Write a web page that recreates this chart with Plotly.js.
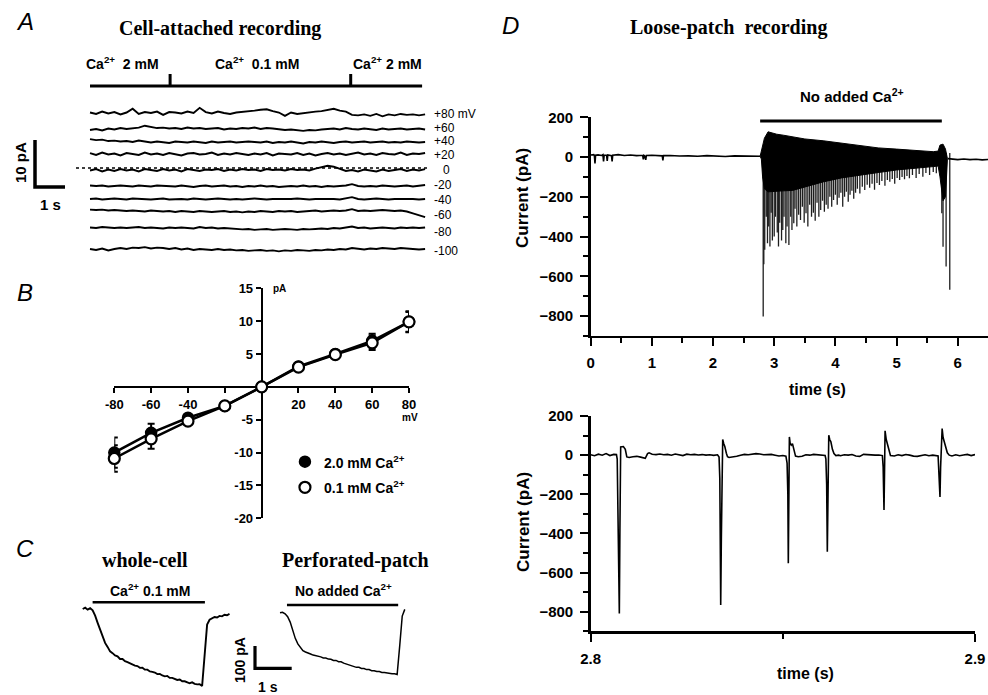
<!DOCTYPE html>
<html><head><meta charset="utf-8">
<script src="https://cdn.plot.ly/plotly-3.0.1.min.js"></script>
<style>html,body{margin:0;padding:0;background:#fff;}#chart{width:988px;height:695px;}</style>
</head><body><div id="chart"></div>
<script>
// ================= DATA =================
// ---- Panel A: cell-attached recording (pA deviations, evenly sampled over the record) ----
const voltageLabels = ['+80 mV','+60','+40','+20','0','-20','-40','-60','-80','-100'];
const recordA_s = 11.17;
const solutionChangeA = [2.67, 8.69];
const solutionEndA = 11.07;
const solutionLabelsA = ['Ca<sup>2+</sup>  2 mM','Ca<sup>2+</sup>  0.1 mM','Ca<sup>2+</sup> 2 mM'];
const traceA_p80 = [0.1,-0.2,0.3,-0.1,0.2,-0.3,0.1,0.9,-0.2,0.2,0,0.3,-0.4,0.2,0.1,-0.1,0.3,0,1.1,0.2,-0.1,0.3,0,-0.2,0.1,0.2,0.3,0.5,0.7,0.8,0.4,0.1,-0.6,0.1,-0.2,0,0.2,0.3,0.4,0.6,0.9,0.5,0.3,-0.4,-0.5,-0.3,-0.6,-0.2,-0.7,-0.3,-0.5,-0.2,-0.4,-0.3,-0.5,-0.3];
const traceA_p60 = [-0.2,0,-0.3,0.1,-0.1,0.2,0,0.1,0.3,0.7,0.4,0.2,0.3,0.1,0.2,0,0.3,0.1,0.2,0,0.1,0.2,-0.1,0.1,0,0.2,0.1,0.3,0,0.2,0.1,0,-0.2,-0.1,-0.3,-0.4,-0.2,-0.3,-0.1,0,0.1,-0.1,0.2,0,-0.1,0.1,0,-0.2,0.1,-0.1,0,0.1,-0.1,0,0.1,-0.1];
const traceA_p40 = [0.6,0.4,0.5,0.2,0.3,0.1,0.2,0,0.3,0.1,-0.1,0.1,0,-0.2,0.1,0,-0.1,0.1,0,-0.2,0.1,-0.1,0,0.1,-0.1,0,0.1,0,-0.1,0.1,-0.2,0,-0.1,0.1,-0.1,-0.3,0,-0.1,0.1,0,-0.2,0,0.1,-0.1,0,0.1,-0.1,0,0.1,-0.1,0,-0.1,0.1,0,-0.1,0];
const traceA_p20 = [0.2,-0.2,0.3,-0.1,0.1,-0.3,0.2,0,-0.2,0.3,-0.1,0.1,-0.2,0.2,0,-0.3,0.1,0.2,-0.1,0,0.3,-0.2,0.1,-0.1,0.2,0,-0.2,0.1,-0.1,0.2,-0.3,0.1,0,-0.1,0.2,-0.2,0.1,-0.3,0,0.2,-0.1,0.1,-0.2,0,0.3,-0.1,0.1,-0.2,0.2,0,-0.1,0.3,-0.2,0.1,0,0.2];
const traceA_0 = [-0.1,0.2,-0.3,0.1,-0.2,0.2,-0.1,0.1,-0.3,0.2,0,-0.2,0.2,-0.1,0.1,-0.3,0.2,0,-0.2,0.1,0,0.2,-0.2,0.1,-0.1,0.2,0,0.1,-0.2,0.2,0,0.1,-0.1,0.2,0,0.1,-0.1,0.3,0.6,0.9,0.7,0.2,-0.2,0,-0.3,0.1,-0.1,-0.3,0.1,-0.2,0,0.2,-0.2,0.1,-0.1,0.2];
const traceA_m20 = [0.1,0,0.1,-0.1,0,0.1,0,-0.1,0.1,0,-0.1,0.1,0,0,-0.1,0.1,0,-0.2,0,0.1,-0.1,0,0.1,-0.1,0,-0.2,0,-0.1,0.1,-0.1,0,-0.2,-0.1,0,-0.1,0.1,-0.1,0,-0.2,0,-0.1,0,0.1,0.4,0,-0.1,0,-0.1,0.1,0,-0.1,0,0.1,-0.1,0,0.2];
const traceA_m40 = [0,0.1,-0.1,0,0.1,0,-0.1,0.1,0,0,-0.1,0,0.1,-0.1,0,0,-0.1,0.1,0,-0.1,0,0.1,0,-0.1,0,-0.1,0,0.1,0,-0.1,0,0,-0.1,0,0.1,0,-0.1,0,0,0.1,0,-0.1,0.1,0.4,0,-0.1,0,0.1,0,-0.1,0,0,0.1,0,-0.1,0];
const traceA_m60 = [0.3,0.2,0.3,0.1,0.2,0.1,0,0.1,0,-0.1,0.1,0,-0.1,0,-0.2,0,-0.1,-0.2,0,-0.1,-0.2,-0.1,0,-0.2,-0.1,-0.3,-0.1,-0.2,0,-0.1,-0.2,0,-0.1,0,-0.2,-0.1,0,0.1,-0.1,0,0.1,0,0.1,0.4,0,0.1,0,0.1,0.2,0.1,0,0.1,-0.1,-0.5,-0.9,-1.3];
const traceA_m80 = [0.1,0,0.2,0.1,0,0.1,0,0.1,0.2,0,0.1,0,-0.1,0.1,0,0.1,0,-0.1,0.2,0,0.1,-0.1,0,-0.1,-0.2,-0.3,-0.2,-0.4,-0.3,-0.2,-0.4,-0.3,-0.2,-0.3,-0.4,-0.2,-0.3,-0.2,-0.1,-0.2,0,-0.1,0.1,0.3,0,0.1,-0.1,0,0.1,0,-0.1,0.1,0,0.1,0,0.1];
const traceA_m100 = [0,-0.2,0.1,-0.3,0,0.2,0,0.3,0.2,0.4,0.1,0.3,0.2,0,0.2,-0.1,0.1,-0.2,0,-0.1,-0.2,0,-0.2,-0.1,-0.3,-0.2,-0.4,-0.3,-0.2,-0.4,-0.3,-0.5,-0.3,-0.4,-0.2,-0.3,-0.4,-0.2,-0.3,-0.1,-0.2,0,-0.1,0.2,0,-0.1,0.1,0,0.2,0.1,0,0.2,0.1,0,-0.1,0];
const scaleA = {pA: 10, s: 1};

// ---- Panel B: I-V relation ----
const ivVoltage = [-80,-60,-40,-20,0,20,40,60,80];
const iv2Ca     = [-10.0,-7.0,-4.7,-2.9,0,3.1,5.0,7.0,9.9];
const iv2CaErr  = [2.3,1.4,0.5,0.3,0,0.6,0.4,1.1,1.5];
const iv01Ca    = [-10.9,-7.9,-5.2,-2.9,0,3.0,4.9,6.7,9.9];
const iv01CaErr = [2.0,1.5,0.5,0.3,0,0.4,0.4,1.1,1.6];
const ivXTicks = [-80,-60,-40,-20,0,20,40,60,80];
const ivXTickText = ['-80','-60','-40','','','20','40','60','80'];
const ivYTicks = [-20,-15,-10,-5,0,5,10,15];
const ivYTickText = ['-20','-15','-10','-5','','5','10','15'];
const ivLegend = ['2.0 mM Ca<sup>2+</sup>','0.1 mM Ca<sup>2+</sup>'];

// ---- Panel C: whole-cell and perforated-patch currents (pA, evenly sampled) ----
const wholeCellDur = 4.0;
const wholeCellI = [0,6,-3,4,-6,-30,-62,-94,-128,-152,-170,-190,-198,-208,-212,-224,-224,-234,-238,-244,-248,-254,-256,-264,-263,-272,-272,-280,-282,-285,-292,-291,-298,-302,-300,-309,-309,-314,-318,-316,-324,-324,-327,-333,-329,-336,-338,-337,-345,-190,-70,-48,-40,-36,-38,-31,-33,-26,-28,-22];
const perfDur = 3.4;
const perfI = [0,2,-5,-18,-42,-80,-115,-140,-157,-170,-176,-182,-185,-190,-192,-197,-198,-203,-203,-208,-209,-214,-214,-220,-220,-226,-230,-235,-238,-240,-245,-245,-250,-250,-255,-255,-260,-260,-264,-264,-268,-268,-271,-271,-274,-274,-277,-150,-15,15];
const wholeCellBar = [0.27, 3.33];
const perfBar = [0.19, 3.22];
const scaleC = {pA: 100, s: 1};

// ---- Panel D (top): loose-patch recording, [time s, current pA] ----
const preBurst = [[0,10],[0.05,12],[0.06,8],[0.07,-32],[0.08,9],[0.12,11],[0.18,8],[0.2,12],[0.21,-22],[0.22,10],[0.26,9],[0.27,-20],[0.28,11],[0.34,7],[0.35,-22],[0.36,9],[0.45,12],[0.55,8],[0.65,10],[0.75,7],[0.85,9],[0.86,-12],[0.87,8],[0.88,6],[0.9,-14],[0.91,8],[1.0,9],[1.1,7],[1.17,6],[1.18,-17],[1.19,7],[1.3,8],[1.45,5],[1.6,6],[1.75,4],[1.9,7],[2.05,5],[2.2,3],[2.35,6],[2.5,4],[2.65,5],[2.77,4]];
const burstEnvelope = [[2.77,4,4],[2.79,30,-10],[2.81,60,-100],[2.84,95,-160],[2.90,127,-175],[3.04,115,-172],[3.15,110,-170],[3.30,102,-168],[3.50,91,-150],[3.80,82,-125],[4.10,70,-105],[4.40,56,-90],[4.70,46,-78],[5.00,40,-65],[5.30,33,-55],[5.60,27,-48],[5.68,30,-45],[5.71,60,-100],[5.76,65,-220],[5.80,40,-200],[5.83,-5,-20]];
const burstSpikes = [[2.82,-802],[2.83,-540],[2.845,-467],[2.87,-300],[2.89,-434],[2.91,-350],[2.93,-450],[2.95,-280],[2.97,-420],[3.00,-400],[3.02,-300],[3.05,-380],[3.07,-450],[3.09,-330],[3.12,-420],[3.14,-367],[3.16,-300],[3.19,-434],[3.21,-350],[3.24,-442],[3.27,-300],[3.29,-367],[3.32,-333],[3.34,-260],[3.37,-350],[3.40,-290],[3.43,-317],[3.46,-250],[3.49,-330],[3.52,-283],[3.55,-350],[3.58,-240],[3.61,-300],[3.64,-280],[3.67,-320],[3.70,-230],[3.73,-300],[3.76,-266],[3.79,-220],[3.82,-275],[3.85,-240],[3.88,-260],[3.91,-200],[3.94,-250],[3.97,-216],[4.00,-190],[4.03,-240],[4.06,-205],[4.09,-180],[4.12,-250],[4.15,-200],[4.18,-175],[4.21,-225],[4.24,-190],[4.27,-170],[4.30,-210],[4.33,-180],[4.36,-160],[4.40,-183],[4.44,-150],[4.48,-166],[4.52,-140],[4.56,-155],[4.60,-135],[4.64,-165],[4.68,-130],[4.72,-141],[4.76,-120],[4.81,-145],[4.85,-115],[4.89,-124],[4.93,-110],[4.97,-135],[5.01,-105],[5.05,-116],[5.09,-100],[5.13,-112],[5.17,-95],[5.21,-107],[5.26,-90],[5.32,-105],[5.37,-85],[5.43,-99],[5.48,-80],[5.54,-90],[5.60,-75],[5.65,-82],[5.74,-283],[5.76,-451],[5.81,-551],[5.87,-668]];
const postBurst = [[5.84,-8],[5.9,-10],[6.0,-13],[6.1,-10],[6.2,-13],[6.3,-11],[6.4,-14],[6.5,-12]];
const noCaPeriod = [2.77, 5.74];

// ---- Panel D (bottom): expanded trace, [ms after 2.8 s, current pA] ----
const zoomTrace = [[0,2],[1,-3],[2,5],[3,0],[4,8],[5,-2],[6,4],[6.7,3],[6.9,-20],[7.2,-560],[7.45,-808],[7.6,-380],[7.8,42],[8.5,44],[9.0,30],[9.4,-9],[10,-12],[11,-8],[12,-6],[13,-10],[13.8,-14],[14.2,-16],[14.8,8],[15.2,12],[16,5],[17,3],[18,6],[19,2],[20,4],[21,0],[22,6],[23,3],[24,-2],[25,5],[26,2],[27,4],[28,1],[29,3],[30,0],[31,2],[32,-1],[33,2],[33.4,-10],[33.6,-120],[33.83,-765],[34.0,-420],[34.2,40],[34.35,80],[34.6,60],[34.9,44],[35.3,10],[35.6,-8],[36,-12],[37,-10],[38,-6],[39,0],[40,4],[41,2],[42,5],[43,8],[44,6],[45,2],[46,3],[47,4],[48,0],[49,-4],[50,-2],[50.8,-5],[51.1,-40],[51.3,-200],[51.42,-552],[51.55,-300],[51.7,93],[51.9,60],[52.2,51],[52.5,59],[52.9,20],[53.3,-5],[54,-8],[55,-6],[56,2],[57,0],[58,4],[59,3],[60,1],[61,-2],[61.2,-20],[61.4,-150],[61.57,-493],[61.75,-200],[61.95,102],[62.2,80],[62.5,68],[62.9,30],[63.3,8],[63.8,-2],[64.5,0],[65,-3],[66,2],[67,0],[68,3],[69,-4],[70,-6],[71,4],[72,2],[73,3],[74,0],[75,1],[75.9,-2],[76.1,-60],[76.32,-280],[76.45,-100],[76.6,124],[76.9,80],[77.2,59],[77.6,20],[78,-2],[79,-4],[80,2],[81,-2],[82,3],[83,0],[84,-5],[85,-6],[86,-2],[87,2],[88,-3],[89,0],[90.4,-4],[90.6,-80],[90.89,-213],[91.05,-60],[91.2,50],[91.45,136],[91.7,90],[92,68],[92.4,30],[92.8,12],[93.3,0],[94,-4],[95,2],[96,-3],[97,1],[98,4],[99,-2],[100,3]];
const zoomStart_s = 2.8;

// ================= LAYOUT GEOMETRY =================
const W = 988, H = 695;
const SANS = 'Liberation Sans, Arial, sans-serif';
const SERIF = 'Liberation Serif, Times New Roman, serif';
const fx = px => px / W;
const fy = py => 1 - py / H;

const A = {x0px: 90, pxPerS: 30, y0px: 113, pxPerPA: 4.7};
const aX = px => (px - A.x0px) / A.pxPerS;
const aY = py => (A.y0px - py) / A.pxPerPA;
const rowPxA = [113,129,142,154,170,186,199,211,228,249];
const labelPxA = [[433,114],[433,128],[433,141],[433,155],[442,170],[433,185],[433,200],[433,215],[433,232],[433,251]];
const B = {x0px: 261.7, pxPerMV: 1.842, y0px: 386.9, pxPerPA: 6.571};
const bX = px => (px - B.x0px) / B.pxPerMV;
const bY = py => (B.y0px - py) / B.pxPerPA;
const C = {x0px: 82.7, pxPerS: 36.7, y0px: 609, pxPerPA: 0.223};
const cX = px => (px - C.x0px) / C.pxPerS;
const cY = py => (C.y0px - py) / C.pxPerPA;
const perfOffsetX = cX(280), perfOffsetY = cY(612.7);

const traces = [];
const blk = 'black';

// ---------- Panel A traces ----------
const tracesA = [traceA_p80,traceA_p60,traceA_p40,traceA_p20,traceA_0,traceA_m20,traceA_m40,traceA_m60,traceA_m80,traceA_m100];
tracesA.forEach((v, k) => {
  const off = aY(rowPxA[k]);
  traces.push({x: v.map((_, i) => i * recordA_s / (v.length - 1)), y: v.map(val => val + off),
    xaxis:'x', yaxis:'y', mode:'lines', line:{color:blk, width:1.9}, hoverinfo:'skip'});
});
(function(){
  const yb = aY(86), yt = aY(74);
  const xs = [0, solutionEndA, null], ys = [yb, yb, null];
  solutionChangeA.forEach(c => { xs.push(c, c, null); ys.push(yb, yt, null); });
  traces.push({x: xs, y: ys, xaxis:'x', yaxis:'y', mode:'lines', line:{color:blk, width:3}, hoverinfo:'skip'});
  const sx = aX(35), sy = aY(187);
  traces.push({x:[sx, sx, sx + scaleA.s], y:[sy + scaleA.pA, sy, sy], xaxis:'x', yaxis:'y', mode:'lines',
    line:{color:blk, width:3.5}, hoverinfo:'skip'});
})();

// ---------- Panel B traces ----------
traces.push({x: ivVoltage, y: iv2Ca, xaxis:'x2', yaxis:'y2', mode:'lines+markers', cliponaxis:false,
  error_y:{type:'data', array: iv2CaErr, color:blk, thickness:2, width:3.5},
  line:{color:blk, width:2.5}, marker:{size:11, color:blk, line:{color:blk, width:1.5}}, hoverinfo:'skip'});
traces.push({x: ivVoltage, y: iv01Ca, xaxis:'x2', yaxis:'y2', mode:'lines+markers', cliponaxis:false,
  error_y:{type:'data', array: iv01CaErr, color:blk, thickness:2, width:3.5},
  line:{color:blk, width:2.5}, marker:{size:11, color:'white', line:{color:blk, width:2.2}}, hoverinfo:'skip'});
traces.push({x:[bX(305)], y:[bY(461.7)], xaxis:'x2', yaxis:'y2', mode:'markers', cliponaxis:false,
  marker:{size:11, color:blk, line:{color:blk, width:1.5}}, hoverinfo:'skip'});
traces.push({x:[bX(305)], y:[bY(487.3)], xaxis:'x2', yaxis:'y2', mode:'markers', cliponaxis:false,
  marker:{size:11, color:'white', line:{color:blk, width:2.2}}, hoverinfo:'skip'});

// ---------- Panel C traces ----------
traces.push({x: wholeCellI.map((_, i) => i * wholeCellDur / (wholeCellI.length - 1)), y: wholeCellI,
  xaxis:'x3', yaxis:'y3', mode:'lines', line:{color:blk, width:1.9}, hoverinfo:'skip'});
traces.push({x: perfI.map((_, i) => perfOffsetX + i * perfDur / (perfI.length - 1)), y: perfI.map(v => v + perfOffsetY),
  xaxis:'x3', yaxis:'y3', mode:'lines', line:{color:blk, width:1.5}, hoverinfo:'skip'});
(function(){
  const y1 = cY(602.3), y2 = cY(605);
  traces.push({x:[wholeCellBar[0], wholeCellBar[1], null, perfOffsetX + perfBar[0], perfOffsetX + perfBar[1]],
    y:[y1, y1, null, y2, y2], xaxis:'x3', yaxis:'y3', mode:'lines', line:{color:blk, width:2.5}, hoverinfo:'skip'});
  const sx = cX(255), sy = cY(668.3);
  traces.push({x:[sx, sx, sx + scaleC.s], y:[sy + scaleC.pA, sy, sy], xaxis:'x3', yaxis:'y3', mode:'lines',
    line:{color:blk, width:3.2}, hoverinfo:'skip'});
})();

// ---------- Panel D top traces ----------
traces.push({x: preBurst.map(p => p[0]), y: preBurst.map(p => p[1]), xaxis:'x4', yaxis:'y4', mode:'lines',
  line:{color:blk, width:1.6}, hoverinfo:'skip'});
(function(){
  const xs = [], ys = [];
  burstSpikes.forEach(s => { xs.push(s[0], s[0], null); ys.push(20, s[1], null); });
  traces.push({x: xs, y: ys, xaxis:'x4', yaxis:'y4', mode:'lines', line:{color:'#1e1e1e', width:1.3}, hoverinfo:'skip'});
  const px = burstEnvelope.map(e => e[0]).concat(burstEnvelope.map(e => e[0]).reverse());
  const py = burstEnvelope.map(e => e[1]).concat(burstEnvelope.map(e => e[2]).reverse());
  traces.push({x: px, y: py, xaxis:'x4', yaxis:'y4', mode:'lines', fill:'toself', fillcolor:blk,
    line:{color:blk, width:1}, hoverinfo:'skip'});
})();
traces.push({x: postBurst.map(p => p[0]), y: postBurst.map(p => p[1]), xaxis:'x4', yaxis:'y4', mode:'lines',
  line:{color:blk, width:1.6}, hoverinfo:'skip'});
traces.push({x: noCaPeriod, y: [182, 182], xaxis:'x4', yaxis:'y4', mode:'lines', cliponaxis:false,
  line:{color:blk, width:3}, hoverinfo:'skip'});

// ---------- Panel D bottom trace ----------
traces.push({x: zoomTrace.map(p => zoomStart_s + p[0] / 1000), y: zoomTrace.map(p => p[1]), xaxis:'x5', yaxis:'y5',
  mode:'lines', line:{color:blk, width:1.6}, hoverinfo:'skip'});

// ================= ANNOTATIONS =================
const ann = [];
function T(text, px, py, size, opts) {
  ann.push(Object.assign({text, x: fx(px), y: fy(py), xref:'paper', yref:'paper', showarrow:false,
    xanchor:'center', yanchor:'middle', font:{family:SANS, size, color:blk}}, opts || {}));
}
const BF = (fam, size) => ({font:{family:fam, size, color:blk, weight:'bold'}});
[['A',25,22],['B',25,292],['C',25,548],['D',510,25]].forEach(l => T('<i>'+l[0]+'</i>', l[1], l[2], 24));
T('Cell-attached recording', 220, 28, 20, BF(SERIF, 20));
[[122,63],[257,63],[387,63]].forEach((p, i) => T(solutionLabelsA[i], p[0], p[1], 14, BF(SANS, 14)));
voltageLabels.forEach((lab, i) => T(lab, labelPxA[i][0], labelPxA[i][1], 12, {xanchor:'left', borderpad:0}));
T('10 pA', 20, 163, 15, Object.assign({textangle:-90}, BF(SANS, 15)));
T('1 s', 50, 205, 15, BF(SANS, 15));
T('pA', 279, 289, 10, BF(SANS, 10));
T('mV', 410, 417, 10, BF(SANS, 10));
T(ivLegend[0], 322, 462, 14, Object.assign({xanchor:'left'}, BF(SANS, 14)));
T(ivLegend[1], 322, 487, 14, Object.assign({xanchor:'left'}, BF(SANS, 14)));
T('whole-cell', 145, 560, 20, BF(SERIF, 20));
T('Perforated-patch', 355, 560, 20, BF(SERIF, 20));
T('Ca<sup>2+</sup> 0.1 mM', 150, 590, 14, BF(SANS, 14));
T('No added Ca<sup>2+</sup>', 343, 590, 14, BF(SANS, 14));
T('100 pA', 240, 660, 14, Object.assign({textangle:-90}, BF(SANS, 14)));
T('1 s', 268, 687, 14, BF(SANS, 14));
T('Loose-patch  recording', 728, 27, 20, BF(SERIF, 20));
T('No added Ca<sup>2+</sup>', 852, 95, 15, BF(SANS, 15));
T('Current (pA)', 523, 198, 17, Object.assign({textangle:-90}, BF(SANS, 17)));
T('time (s)', 817, 389, 16, BF(SANS, 16));
T('Current (pA)', 523, 522, 17, Object.assign({textangle:-90}, BF(SANS, 17)));
T('time (s)', 805, 673, 16, BF(SANS, 16));

// ================= AXES =================
const hidden = {visible:false, fixedrange:true, showgrid:false, zeroline:false};
const tickFontB = {family:SANS, size:13, color:blk, weight:'bold'};
const tickFontD = {family:SANS, size:15, color:blk, weight:'bold'};
const axisB = {showline:true, linewidth:2.5, linecolor:blk, ticks:'outside', ticklen:5, tickwidth:2, tickcolor:blk,
  showgrid:false, zeroline:false, tickmode:'array', tickfont:tickFontB, layer:'below traces', fixedrange:true};
const axisD = {showline:true, linewidth:2.5, linecolor:blk, ticks:'outside', ticklen:8, tickwidth:2, tickcolor:blk,
  showgrid:false, zeroline:false, tickfont:tickFontD, fixedrange:true, ticklabelstandoff:4};

const layout = {
  width: W, height: H, margin:{l:0, r:0, t:0, b:0}, paper_bgcolor:'white', plot_bgcolor:'rgba(0,0,0,0)',
  showlegend:false, font:{family:SANS, color:blk},
  xaxis: Object.assign({}, hidden, {domain:[0, fx(490)], range:[aX(0), aX(490)], anchor:'y'}),
  yaxis: Object.assign({}, hidden, {domain:[fy(262), fy(50)], range:[aY(262), aY(50)], anchor:'x'}),
  xaxis2: Object.assign({}, axisB, {domain:[fx(114.3), fx(409)], range:[-80, 80], anchor:'free', position: fy(B.y0px),
    tickvals: ivXTicks, ticktext: ivXTickText}),
  yaxis2: Object.assign({}, axisB, {domain:[fy(518.3), fy(288.3)], range:[-20, 15], anchor:'free', position: fx(B.x0px),
    tickvals: ivYTicks, ticktext: ivYTickText}),
  xaxis3: Object.assign({}, hidden, {domain:[fx(60), fx(440)], range:[cX(60), cX(440)], anchor:'y3'}),
  yaxis3: Object.assign({}, hidden, {domain:[0, fy(580)], range:[cY(695), cY(580)], anchor:'x3'}),
  xaxis4: Object.assign({}, axisD, {domain:[fx(590.7), 1], range:[0, (988 - 590.7) / 61.17], anchor:'y4',
    tick0:0, dtick:1, minor:{dtick:0.5, tick0:0, ticks:'outside', ticklen:5, tickwidth:2, tickcolor:blk}}),
  yaxis4: Object.assign({}, axisD, {domain:[fy(335.9), fy(117.3)], range:[-900, 200], anchor:'x4',
    tick0:0, dtick:200, minor:{dtick:100, tick0:0, ticks:'outside', ticklen:5, tickwidth:2, tickcolor:blk}}),
  xaxis5: Object.assign({}, axisD, {domain:[fx(590.7), fx(975)], range:[2.8, 2.9], anchor:'y5',
    tickmode:'array', tickvals:[2.8, 2.9], ticktext:['2.8','2.9'],
    minor:{tickmode:'array', tickvals:[2.85], ticks:'outside', ticklen:5, tickwidth:2, tickcolor:blk}}),
  yaxis5: Object.assign({}, axisD, {domain:[fy(631.4), fy(416)], range:[-900, 200], anchor:'x5',
    tick0:0, dtick:200, minor:{dtick:100, tick0:0, ticks:'outside', ticklen:5, tickwidth:2, tickcolor:blk}}),
  shapes: [
    {type:'line', xref:'x', yref:'y', x0:aX(76), x1:aX(430), y0:aY(168), y1:aY(168),
      line:{color:blk, width:1.6, dash:'dot'}}
  ],
  annotations: ann
};

Plotly.newPlot('chart', traces, layout, {displayModeBar:false, staticPlot:true});
</script>
</body></html>
